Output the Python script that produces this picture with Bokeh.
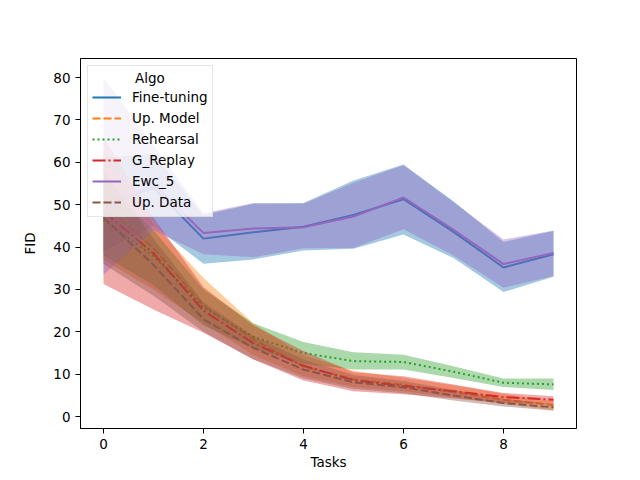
from bokeh.plotting import figure
from bokeh.models import FixedTicker, Range1d
from bokeh.embed import file_html
from bokeh.resources import INLINE

tasks = [0, 1, 2, 3, 4, 5, 6, 7, 8, 9]
x_ticks = [0, 2, 4, 6, 8]
y_ticks = [0, 10, 20, 30, 40, 50, 60, 70, 80]

names = ["Fine-tuning", "Up. Model", "Rehearsal", "G_Replay", "Ewc_5", "Up. Data"]

ft_mean = [50.0, 54.0, 42.0, 43.5, 44.8, 47.6, 51.3, 43.6, 35.2, 38.3]
ft_lo = [39.0, 45.0, 36.1, 37.1, 39.2, 39.6, 43.0, 37.4, 29.4, 33.0]
ft_hi = [61.0, 62.0, 47.6, 50.2, 50.4, 55.7, 59.5, 50.8, 41.2, 43.8]

um_mean = [50.0, 39.8, 26.2, 18.2, 11.8, 8.8, 7.5, 5.8, 4.0, 2.7]
um_lo = [37.0, 30.0, 22.0, 14.5, 9.5, 7.0, 6.0, 4.5, 3.0, 1.5]
um_hi = [63.0, 45.5, 32.7, 22.0, 14.5, 10.8, 9.2, 7.4, 5.4, 3.7]

reh_mean = [46.3, 37.9, 25.8, 18.8, 15.0, 13.1, 12.9, 10.6, 8.0, 7.6]
reh_lo = [38.0, 31.0, 21.5, 16.0, 12.5, 11.1, 11.1, 9.1, 7.0, 6.3]
reh_hi = [55.0, 44.0, 30.0, 22.0, 17.6, 15.2, 14.6, 11.9, 9.0, 9.0]

gr_mean = [48.5, 38.5, 25.0, 17.3, 12.0, 8.6, 7.2, 6.0, 4.6, 4.0]
gr_lo = [31.3, 25.3, 19.8, 13.5, 8.5, 6.0, 5.3, 4.3, 3.2, 3.0]
gr_hi = [66.0, 47.0, 30.5, 21.5, 15.5, 10.5, 9.5, 7.6, 5.6, 4.8]

ewc_mean = [48.5, 55.0, 43.3, 44.4, 44.7, 47.2, 51.7, 44.1, 36.0, 38.6]
ewc_lo = [33.5, 44.0, 38.3, 37.6, 39.7, 39.8, 44.2, 38.0, 30.4, 33.2]
ewc_hi = [80.0, 64.0, 48.0, 50.4, 50.2, 55.2, 59.3, 50.6, 41.8, 43.9]

ud_mean = [47.0, 35.8, 23.0, 16.2, 11.1, 8.1, 6.9, 5.0, 3.2, 2.2]
ud_lo = [36.0, 28.5, 20.0, 13.5, 9.0, 6.5, 5.5, 3.8, 2.4, 1.4]
ud_hi = [58.0, 42.0, 27.0, 19.0, 13.5, 9.8, 8.4, 6.3, 4.2, 3.0]

means = [ft_mean, um_mean, reh_mean, gr_mean, ewc_mean, ud_mean]
los = [ft_lo, um_lo, reh_lo, gr_lo, ewc_lo, ud_lo]
his = [ft_hi, um_hi, reh_hi, gr_hi, ewc_hi, ud_hi]
colors = ["#1f77b4", "#ff7f0e", "#2ca02c", "#d62728", "#9467bd", "#8c564b"]
dashes = ["solid", "8 3", "2 3", "13 3 2 3", "solid", "8 3"]

FONT = "DejaVu Sans"

p = figure(frame_width=496, frame_height=370, output_backend="svg",
           toolbar_location=None,
           x_range=Range1d(-0.46, 9.46), y_range=Range1d(-2.8, 84.5),
           min_border_left=80, min_border_right=48,
           min_border_top=58, min_border_bottom=44)

for name, m, lo, hi, c, d in zip(names, means, los, his, colors, dashes):
    p.line(tasks, m, line_color=c, line_width=2, line_dash=d, legend_label=name)
    p.varea(x=tasks, y1=lo, y2=hi, fill_color=c, fill_alpha=0.4)

p.grid.visible = False
p.outline_line_color = "black"
p.outline_line_width = 1
p.outline_line_alpha = 1

p.xaxis.ticker = FixedTicker(ticks=x_ticks)
p.yaxis.ticker = FixedTicker(ticks=y_ticks)
for ax in (p.xaxis, p.yaxis):
    ax.major_tick_out = 5
    ax.major_tick_in = 0
    ax.minor_tick_out = 0
    ax.minor_tick_in = 0
    ax.major_tick_line_color = "black"
    ax.axis_line_color = "black"
    ax.major_label_text_font = FONT
    ax.major_label_text_font_size = "13.5px"
    ax.major_label_text_color = "black"
    ax.axis_label_text_font = FONT
    ax.axis_label_text_font_size = "13.5px"
    ax.axis_label_text_font_style = "normal"
    ax.axis_label_text_color = "black"
p.xaxis.axis_label = "Tasks"
p.yaxis.axis_label = "FID"
p.xaxis.axis_label_standoff = 2
p.yaxis.axis_label_standoff = 12

lg = p.legend[0]
lg.location = "top_left"
lg.title = "\u00a0" * 10 + "Algo"
lg.title_text_font = FONT
lg.title_text_font_size = "13.5px"
lg.title_text_font_style = "normal"
lg.title_text_color = "black"
lg.title_standoff = 1
lg.label_text_font = FONT
lg.label_text_font_size = "13.5px"
lg.label_text_color = "black"
lg.margin = 7
lg.padding = 4
lg.spacing = 1
lg.label_height = 20
lg.glyph_height = 20
lg.glyph_width = 29
lg.label_standoff = 11
lg.border_line_color = "#cccccc"
lg.border_line_width = 1
lg.background_fill_alpha = 0.8

open("out.html", "w").write(file_html(p, INLINE))
